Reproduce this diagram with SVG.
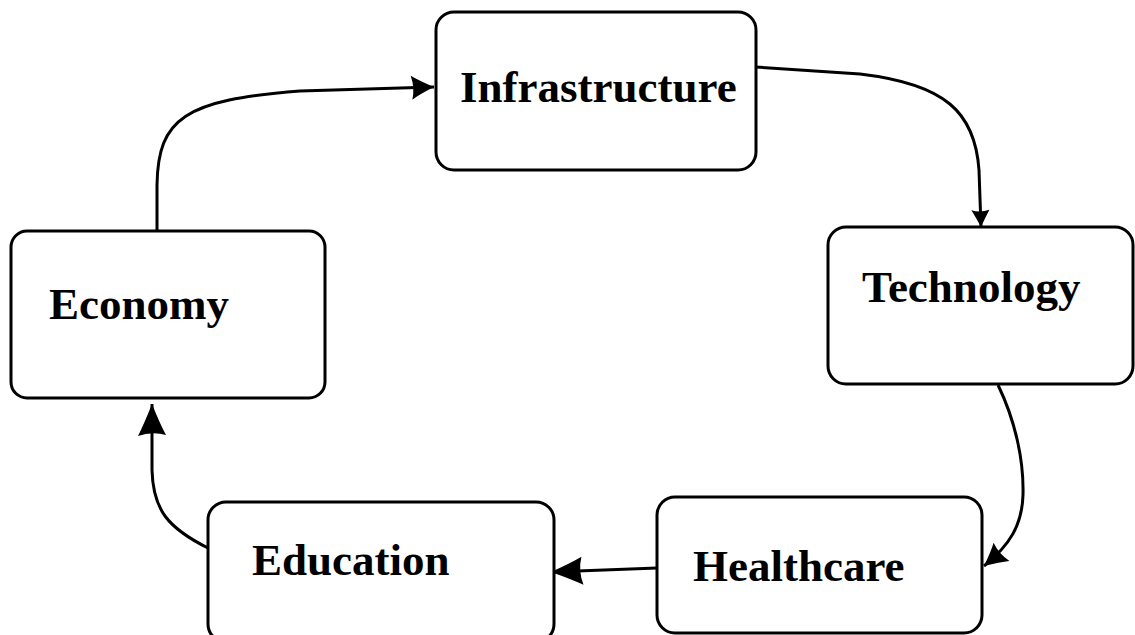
<svg xmlns="http://www.w3.org/2000/svg" width="1135" height="635" viewBox="0 0 1135 635">
  <style>
    .box { fill: #ffffff; stroke: #000000; stroke-width: 3; }
    .lbl { font-family: "Liberation Serif", "Times New Roman", serif; font-weight: bold; font-size: 45px; fill: #000000; }
    .conn { fill: none; stroke: #000000; stroke-width: 3; }
  </style>
  <defs>
    <marker id="arr" markerUnits="userSpaceOnUse" markerWidth="30" markerHeight="28" refX="25" refY="13" orient="auto">
      <path d="M2,1 Q10,6 25,13 Q10,20 3,25 Q6,13 2,1 Z" fill="#000000"/>
    </marker>
    <marker id="arrS" markerUnits="userSpaceOnUse" markerWidth="24" markerHeight="22" refX="18" refY="10" orient="auto">
      <path d="M1,1 Q8,5 18,10 Q8,15 1,19 Q4,10 1,1 Z" fill="#000000"/>
    </marker>
    <marker id="arrL" markerUnits="userSpaceOnUse" markerWidth="40" markerHeight="34" refX="34" refY="15" orient="auto">
      <path d="M2,1 Q14,7 34,15 Q14,23 3,29 Q7,15 2,1 Z" fill="#000000"/>
    </marker>
  </defs>
  <rect width="1135" height="635" fill="#ffffff"/>
  <g id="connectors">
    <path class="conn" d="M157,231 L157,185 C158,118 185,100 300,91 L434,87" marker-end="url(#arr)"/>
    <path class="conn" d="M756,67 L860,74 C945,84 975,112 979,170 L981,227" marker-end="url(#arrS)"/>
    <path class="conn" d="M998,385 C1015,420 1024,460 1023,495 C1022,525 1010,545 984,566" marker-end="url(#arr)"/>
    <path class="conn" d="M657,568 L551,572" marker-end="url(#arrL)"/>
    <path class="conn" d="M208,548 C168,528 153,510 152,470 L152,404" marker-end="url(#arrL)"/>
  </g>
  <g id="node-infrastructure">
    <rect class="box" x="436" y="12" width="320" height="158" rx="18"/>
    <text class="lbl" x="460" y="102">Infrastructure</text>
  </g>
  <g id="node-technology">
    <rect class="box" x="828" y="227" width="305" height="157" rx="18"/>
    <text class="lbl" x="862" y="302">Technology</text>
  </g>
  <g id="node-economy">
    <rect class="box" x="11" y="231" width="314" height="167" rx="16"/>
    <text class="lbl" x="49" y="319">Economy</text>
  </g>
  <g id="node-education">
    <rect class="box" x="208" y="502" width="346" height="140" rx="18"/>
    <text class="lbl" x="252" y="575">Education</text>
  </g>
  <g id="node-healthcare">
    <rect class="box" x="657" y="497" width="325" height="136" rx="18"/>
    <text class="lbl" x="693" y="581">Healthcare</text>
  </g>
</svg>
